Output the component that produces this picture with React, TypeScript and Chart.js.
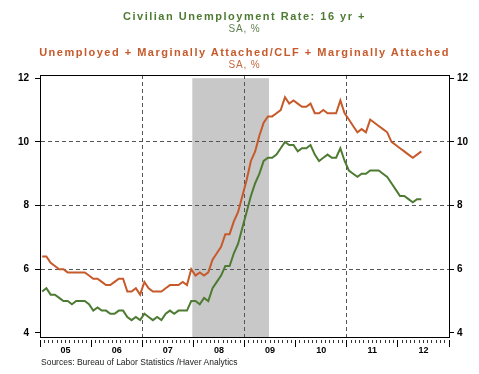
import React, { useEffect, useRef } from 'react';
import { Chart, registerables } from 'chart.js';

Chart.register(...registerables);

// ---- data (monthly, Jan 2005 .. Jun 2012) ----
const yearLabels = ['05', '06', '07', '08', '09', '10', '11', '12'];
const yTicks = [4, 6, 8, 10, 12];
const gridYValues = [6, 8, 10];
const gridXMonths = [24, 48, 72]; // Jan 2007, Jan 2009, Jan 2011
const recessionMonths = [35, 53]; // Dec 2007 .. Jun 2009 (month index from Jan 2005)

const civilianRate = [
  5.3, 5.4, 5.2, 5.2, 5.1, 5.0, 5.0, 4.9, 5.0, 5.0, 5.0, 4.9,
  4.7, 4.8, 4.7, 4.7, 4.6, 4.6, 4.7, 4.7, 4.5, 4.4, 4.5, 4.4,
  4.6, 4.5, 4.4, 4.5, 4.4, 4.6, 4.7, 4.6, 4.7, 4.7, 4.7, 5.0,
  5.0, 4.9, 5.1, 5.0, 5.4, 5.6, 5.8, 6.1, 6.1, 6.5, 6.8, 7.3,
  7.8, 8.3, 8.7, 9.0, 9.4, 9.5, 9.5, 9.6, 9.8, 10.0, 9.9, 9.9,
  9.7, 9.8, 9.8, 9.9, 9.6, 9.4, 9.5, 9.6, 9.5, 9.5, 9.8, 9.4,
  9.1, 9.0, 8.9, 9.0, 9.0, 9.1, 9.1, 9.1, 9.0, 8.9, 8.7, 8.5,
  8.3, 8.3, 8.2, 8.1, 8.2, 8.2,
];

const marginallyAttachedRate = [
  6.4, 6.4, 6.2, 6.1, 6.0, 6.0, 5.9, 5.9, 5.9, 5.9, 5.9, 5.8,
  5.7, 5.7, 5.6, 5.5, 5.5, 5.6, 5.7, 5.7, 5.3, 5.3, 5.4, 5.2,
  5.6, 5.4, 5.3, 5.3, 5.3, 5.4, 5.5, 5.5, 5.5, 5.6, 5.5, 6.0,
  5.8, 5.9, 5.8, 5.9, 6.3, 6.5, 6.7, 7.1, 7.1, 7.5, 7.8, 8.3,
  8.8, 9.4, 9.7, 10.2, 10.6, 10.8, 10.8, 10.9, 11.0, 11.4, 11.2, 11.3,
  11.2, 11.1, 11.1, 11.2, 10.9, 10.9, 11.0, 10.9, 10.9, 10.9, 11.3, 10.9,
  10.7, 10.5, 10.3, 10.4, 10.3, 10.7, 10.6, 10.5, 10.4, 10.3, 10.0, 9.9,
  9.8, 9.7, 9.6, 9.5, 9.6, 9.7,
];

const GREEN = '#4e7b32';
const ORANGE = '#c65a2b';
const FONT = "'Liberation Sans', Arial, Helvetica, sans-serif";

export default function App() {
  const ref = useRef<HTMLCanvasElement>(null);

  useEffect(() => {
    document.body.style.margin = '0';
    const canvas = ref.current;
    if (!canvas) return;

    const recessionPlugin = {
      id: 'recessionShade',
      beforeDraw(chart: any) {
        const { ctx, chartArea, scales } = chart;
        const xs = scales.x;
        const ys = scales.y;
        const x1 = xs.getPixelForValue(recessionMonths[0] + 0.75);
        const x2 = xs.getPixelForValue(recessionMonths[1] + 0.75);
        const top = ys.getPixelForValue(12);
        ctx.save();
        ctx.fillStyle = '#c8c8c8';
        ctx.fillRect(x1, top, x2 - x1, chartArea.bottom - top);
        ctx.restore();
      },
    };

    const monthTicks = () => {
      const t: { value: number }[] = [];
      for (let m = 0; m <= yearLabels.length * 12; m++) t.push({ value: m });
      return t;
    };

    const chart = new Chart(canvas, {
      type: 'line',
      data: {
        datasets: [
          {
            label: 'Civilian Unemployment Rate: 16 yr +',
            data: civilianRate.map((v, i) => ({ x: i + 0.5, y: v })),
            borderColor: GREEN,
            backgroundColor: GREEN,
            borderWidth: 2,
            pointRadius: 0,
            tension: 0,
            xAxisID: 'x',
            yAxisID: 'y',
          },
          {
            label: 'Unemployed + Marginally Attached/CLF + Marginally Attached',
            data: marginallyAttachedRate.map((v, i) => ({ x: i + 0.5, y: v })),
            borderColor: ORANGE,
            backgroundColor: ORANGE,
            borderWidth: 2,
            pointRadius: 0,
            tension: 0,
            xAxisID: 'x',
            yAxisID: 'y',
          },
        ],
      },
      options: {
        responsive: false,
        animation: false,
        devicePixelRatio: 1,
        layout: { padding: { top: 75, left: 0, right: 0, bottom: 0 } },
        plugins: {
          legend: { display: false },
          tooltip: { enabled: false },
          title: { display: false },
        },
        scales: {
          x: {
            type: 'linear',
            position: 'bottom',
            min: 0,
            max: yearLabels.length * 12,
            afterBuildTicks: (s: any) => {
              s.ticks = monthTicks();
            },
            afterFit: (s: any) => {
              s.height = 37;
            },
            grid: {
              display: true,
              drawOnChartArea: true,
              drawTicks: true,
              lineWidth: 1,
              color: (c: any) =>
                c.tick && gridXMonths.includes(c.tick.value) ? '#555555' : 'rgba(0,0,0,0)',
              tickColor: (c: any) => (c.tick && c.tick.value % 12 === 0 ? '#000000' : '#333333'),
              tickLength: 10,
              tickWidth: 1,
              tickBorderDash: (c: any) =>
                c.tick && c.tick.value % 12 === 0 ? [0, 2, 8, 40] : [0, 2, 3, 40],
            },
            border: { display: true, color: '#000000', width: 1, dash: [4, 3] },
            ticks: {
              autoSkip: false,
              maxRotation: 0,
              minRotation: 0,
              padding: -2,
              color: '#000000',
              font: { family: FONT, size: 9, weight: 'bold' },
              callback: (v: any) => {
                const n = Number(v);
                return n % 12 === 6 ? yearLabels[(n - 6) / 12] : '';
              },
            },
          },
          xTop: {
            type: 'linear',
            position: 'top',
            min: 0,
            max: yearLabels.length * 12,
            afterFit: (s: any) => {
              s.height = 0;
            },
            grid: { display: false, drawTicks: false },
            ticks: { display: false },
            border: { display: true, color: '#000000', width: 1 },
          },
          y: {
            type: 'linear',
            position: 'left',
            min: 3.87,
            max: 12.1,
            afterBuildTicks: (s: any) => {
              s.ticks = yTicks.map((v) => ({ value: v }));
            },
            afterFit: (s: any) => {
              s.width = 40;
            },
            grid: {
              display: true,
              drawOnChartArea: true,
              lineWidth: 1,
              color: (c: any) =>
                c.tick && gridYValues.includes(c.tick.value) ? '#555555' : 'rgba(0,0,0,0)',
              tickColor: '#000000',
              tickLength: 5,
              tickWidth: 1,
            },
            border: { display: true, color: '#000000', width: 1, dash: [4, 3] },
            ticks: {
              padding: 6,
              color: '#000000',
              font: { family: FONT, size: 10, weight: 'bold' },
              callback: (v: any) => String(v),
            },
          },
          y2: {
            type: 'linear',
            position: 'right',
            min: 3.87,
            max: 12.1,
            afterBuildTicks: (s: any) => {
              s.ticks = yTicks.map((v) => ({ value: v }));
            },
            afterFit: (s: any) => {
              s.width = 30;
            },
            grid: {
              display: true,
              drawOnChartArea: false,
              color: '#000000',
              tickColor: '#000000',
              tickLength: 5,
              tickWidth: 1,
            },
            border: { display: true, color: '#000000', width: 1 },
            ticks: {
              padding: 3,
              color: '#000000',
              font: { family: FONT, size: 10, weight: 'bold' },
              callback: (v: any) => String(v),
            },
          },
        },
      } as any,
      plugins: [recessionPlugin],
    });

    return () => chart.destroy();
  }, []);

  const titleBase: React.CSSProperties = {
    position: 'absolute',
    left: 5,
    width: 479,
    textAlign: 'center',
    fontFamily: FONT,
    whiteSpace: 'nowrap',
  };

  return (
    <div
      style={{
        position: 'fixed',
        left: 0,
        top: 0,
        width: 479,
        height: 374,
        background: '#ffffff',
        overflow: 'hidden',
      }}
    >
      <canvas ref={ref} width={479} height={374} style={{ position: 'absolute', left: 0, top: 0, width: 479, height: 374 }} />
      <div style={{ ...titleBase, top: 11.4, fontSize: 11, lineHeight: '11px', fontWeight: 'bold', letterSpacing: '1.5px', color: GREEN }}>
        Civilian Unemployment Rate: 16 yr +
      </div>
      <div style={{ ...titleBase, top: 24.3, fontSize: 10, lineHeight: '10px', letterSpacing: '0.8px', color: '#5f8250' }}>
        SA, %
      </div>
      <div style={{ ...titleBase, top: 47.2, fontSize: 11, lineHeight: '11px', fontWeight: 'bold', letterSpacing: '1.5px', color: ORANGE }}>
        Unemployed + Marginally Attached/CLF + Marginally Attached
      </div>
      <div style={{ ...titleBase, top: 59.8, fontSize: 10, lineHeight: '10px', letterSpacing: '0.8px', color: '#c8683e' }}>
        SA, %
      </div>
      <div
        style={{
          position: 'absolute',
          left: 41,
          top: 357.5,
          fontSize: 8.5,
          lineHeight: '8.5px',
          fontFamily: FONT,
          color: '#222222',
          whiteSpace: 'nowrap',
        }}
      >
        Sources:  Bureau of Labor Statistics /Haver Analytics
      </div>
    </div>
  );
}
